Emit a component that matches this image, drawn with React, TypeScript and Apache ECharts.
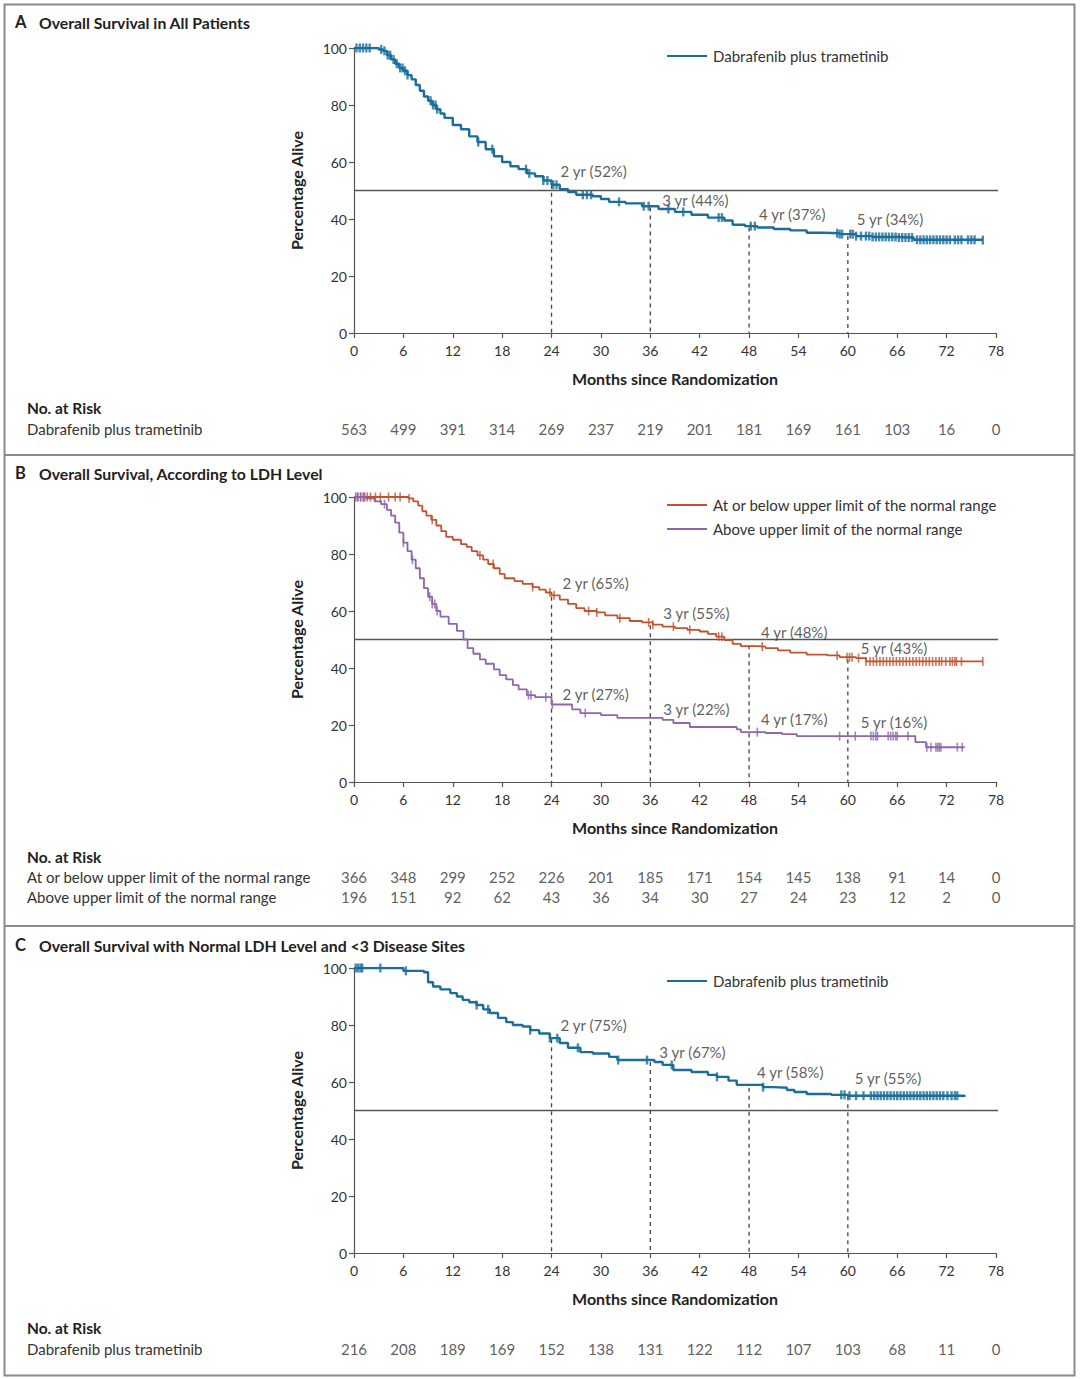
import React, { useEffect, useRef } from "react";
import * as echarts from "echarts";

const FONT = 'Lato, "Open Sans", "DejaVu Sans", sans-serif';
const BLUE = "#1b6e9c";
const RED = "#c4522f";
const PURPLE = "#8e66ad";

// ---------- Panel A: all patients ----------
const monthsA = [0, 2.5, 3, 3.5, 4, 4.5, 5, 5.5, 6, 6.5, 7, 7.5, 8, 8.5, 9, 9.5, 10, 10.5, 11, 12, 13, 14, 15, 16, 17, 18, 19, 20, 21, 22, 23, 24, 25, 26, 27, 29, 30, 31, 33, 35, 37, 39, 41, 43, 45, 46, 47.5, 49, 51, 53, 55, 57, 59, 61, 63, 66, 68, 76.4];
const survA = [100, 100, 99.5, 99, 97.5, 96, 94.5, 93, 92, 90.5, 89, 87, 85, 83, 81.5, 80, 78.5, 77, 75.5, 73, 71.5, 69, 67, 64.5, 62, 60, 58.5, 57.5, 56, 55, 53.5, 52, 50.5, 49.5, 48.5, 48, 47, 46, 45.5, 44.5, 43.5, 42.5, 41.5, 40.5, 39.5, 38, 37.5, 37, 36.5, 36, 35.2, 35, 34.7, 34, 33.7, 33.5, 32.7, 32.6];
const censorA = [0.3, 0.7, 1.1, 1.5, 1.9, 3.3, 3.7, 4.1, 4.4, 4.8, 5.2, 5.6, 5.9, 6.2, 6.5, 9.3, 9.6, 9.9, 10.1, 15.1, 16.8, 20.9, 21.3, 23, 23.5, 24.2, 24.6, 27.8, 28.3, 28.8, 32.2, 35.2, 35.8, 38.2, 40, 44.3, 44.7, 48.2, 48.7, 58.7, 59, 59.3, 60.3, 60.6, 61, 61.6, 62.2, 62.6, 63, 63.4, 63.8, 64.2, 64.6, 65, 65.4, 65.8, 66.2, 66.6, 67, 67.4, 67.8, 68.4, 68.8, 69.2, 69.6, 70, 70.4, 70.8, 71.2, 71.6, 72, 72.4, 73, 73.4, 73.8, 74.6, 75, 75.4, 76.4];
const milestonesA = [24, 36, 48, 60];
const pctA = [52, 44, 37, 34];

// ---------- Panel B: LDH level ----------
const monthsB1 = [0, 5.8, 6.6, 7.2, 7.8, 8.3, 8.8, 9.4, 10, 10.6, 11.2, 12, 13, 13.7, 14.3, 15, 15.7, 16.3, 17, 17.7, 18.3, 19.5, 20.5, 21.7, 22.5, 23.3, 24, 25, 26, 27, 28, 29.5, 30.5, 32, 33.5, 35, 36.3, 37.5, 39, 40.5, 42, 43, 44, 45, 46, 47, 49, 50, 51.5, 53, 55, 57.5, 59, 61, 62.2, 76.4];
const survB1 = [100, 100, 99.5, 98.5, 97, 95, 93.5, 92, 90, 88, 86, 85, 83.5, 82.5, 81, 79.5, 78, 76.5, 75, 73, 71.5, 70.5, 69.5, 68.4, 67.5, 66.5, 65.5, 64, 62.5, 61, 60, 59.5, 58.5, 57.5, 56.5, 56, 55.2, 54.5, 54, 53.4, 52.8, 52, 51, 49.8, 48.5, 47.7, 47.5, 47, 46.2, 45.4, 44.7, 44.4, 43.8, 43.5, 42.3, 42.3];
const censorB1 = [0.4, 0.8, 1.2, 1.6, 2.0, 2.6, 3.2, 4.2, 5.0, 5.6, 6.7, 9.5, 15.3, 16.9, 21.7, 23.8, 24.3, 28.5, 29.5, 32.3, 35.8, 36.3, 38.8, 40.8, 44.3, 44.7, 49.6, 58.7, 59.9, 60.2, 60.5, 61.3, 62.2, 62.7, 63.1, 63.5, 63.9, 64.3, 64.7, 65.1, 65.5, 65.9, 66.3, 66.7, 67.1, 67.5, 67.9, 68.3, 68.7, 69.1, 69.5, 69.9, 70.3, 70.7, 71.1, 71.4, 71.9, 72.4, 72.7, 73, 73.2, 73.8, 76.4];
const monthsB2 = [0, 1.5, 2.5, 3.3, 4, 4.5, 5, 5.5, 6, 6.5, 7, 7.5, 8, 8.5, 9, 9.5, 10, 10.5, 11.5, 12.5, 13.3, 13.8, 14.5, 15.3, 16, 17, 17.7, 18.5, 19.3, 20, 21, 22, 24, 26.5, 27.5, 30, 32, 37.5, 38.8, 40.8, 46.5, 47, 50, 52, 53.8, 68.2, 69.5, 74.2];
const survB2 = [100, 99.5, 98.5, 97.5, 95.5, 93.5, 91, 87.5, 84, 81, 78, 75, 71.5, 68, 65, 62.5, 60, 58, 55.5, 53, 50, 47, 45, 43, 41.5, 39.5, 37.5, 36, 34, 32.5, 30.5, 29.8, 27.2, 25.5, 24.2, 23.5, 22.5, 21.8, 20.7, 19.3, 18.5, 17.5, 17.2, 16.8, 16.1, 14, 12.2, 12.2];
const censorB2 = [0.2, 0.5, 0.8, 1.1, 1.3, 3.7, 6, 7.1, 9.2, 9.5, 9.8, 10.1, 21.2, 21.5, 23.3, 24.1, 28.1, 49, 59, 60.9, 62.8, 63.1, 63.4, 63.6, 64.9, 65.2, 65.5, 65.8, 66, 67.3, 69.6, 70.1, 70.7, 70.9, 71.1, 71.3, 73.3, 73.9];
const milestonesB = [24, 36, 48, 60];
const pctB1 = [65, 55, 48, 43];
const pctB2 = [27, 22, 17, 16];

// ---------- Panel C: normal LDH and <3 disease sites ----------
const monthsC = [0, 5.5, 6, 8.5, 9, 9.6, 10.5, 11.7, 12.5, 13.2, 14, 14.9, 15.7, 16.5, 17.5, 18.5, 19.3, 20.5, 21.4, 22.5, 23.8, 25, 26, 27.5, 29, 31, 32, 36.5, 37.5, 38.8, 41, 43, 44.1, 45.5, 46.5, 49.7, 51, 52.6, 53.5, 55, 58, 60, 74.2];
const survC = [100, 100, 99, 98.5, 95, 93.5, 92.5, 91.2, 90, 88.8, 88, 87, 85.5, 84.2, 82.5, 81, 80, 79.5, 78.2, 77, 75.4, 73.7, 72, 70.5, 70, 68.8, 67.7, 67, 66, 64.2, 63.5, 62.5, 61.8, 60.5, 59, 58.2, 58, 57.2, 56.5, 55.8, 55.5, 55.2, 54.8];
const censorC = [0.2, 0.5, 0.8, 1.0, 3.2, 6.3, 14.9, 16.3, 21.4, 23.8, 24.7, 27.2, 32.1, 35.6, 38.6, 44.1, 49.7, 59.2, 59.6, 60.2, 61, 61.9, 62.8, 63.2, 63.6, 64, 64.4, 64.8, 65.2, 65.6, 66, 66.4, 66.8, 67.2, 67.6, 68, 68.4, 68.8, 69.2, 69.6, 70, 70.4, 70.8, 71.2, 71.6, 72.1, 72.6, 73, 73.3];
const milestonesC = [24, 36, 48, 60];
const pctC = [75, 67, 58, 55];

// ---------- Number at risk ----------
const riskMonths = [0, 6, 12, 18, 24, 30, 36, 42, 48, 54, 60, 66, 72, 78];
const riskA = [563, 499, 391, 314, 269, 237, 219, 201, 181, 169, 161, 103, 16, 0];
const riskB1 = [366, 348, 299, 252, 226, 201, 185, 171, 154, 145, 138, 91, 14, 0];
const riskB2 = [196, 151, 92, 62, 43, 36, 34, 30, 27, 24, 23, 12, 2, 0];
const riskC = [216, 208, 189, 169, 152, 138, 131, 122, 112, 107, 103, 68, 11, 0];

const titles = [
  ["A", "Overall Survival in All Patients"],
  ["B", "Overall Survival, According to LDH Level"],
  ["C", "Overall Survival with Normal LDH Level and <3 Disease Sites"],
];
const legendA = ["Dabrafenib plus trametinib"];
const legendB = ["At or below upper limit of the normal range", "Above upper limit of the normal range"];
const legendC = ["Dabrafenib plus trametinib"];

function survAt(times: number[], surv: number[], t: number) {
  let v = surv[0];
  for (let i = 0; i < times.length; i++) if (times[i] <= t) v = surv[i];
  return v;
}

export default function App() {
  const ref = useRef<HTMLDivElement>(null);
  useEffect(() => {
    if (!ref.current) return;
    const chart = echarts.init(ref.current, undefined, { renderer: "svg" });

    const plotTops = [48, 497, 968];
    const grids: any[] = plotTops.map((t) => ({ left: 354, top: t, width: 642, height: 285 }));
    grids.push({ left: 354, top: 419, width: 642, height: 20 });
    grids.push({ left: 354, top: 867, width: 642, height: 40 });
    grids.push({ left: 354, top: 1339, width: 642, height: 20 });

    const axisLineStyle = { color: "#555", width: 1.2 };
    const nameStyle = { fontSize: 16, fontWeight: "bold", color: "#222", fontFamily: FONT };
    const xAxes: any[] = [0, 1, 2].map((g) => ({
      type: "value", gridIndex: g, min: 0, max: 78, interval: 6,
      axisLine: { show: true, lineStyle: axisLineStyle },
      axisTick: { show: true, length: 5, lineStyle: axisLineStyle },
      axisLabel: { fontSize: 14, color: "#333", fontFamily: FONT, margin: 10 },
      splitLine: { show: false },
      name: "Months since Randomization", nameLocation: "middle", nameGap: 37,
      nameTextStyle: nameStyle,
    }));
    const yAxes: any[] = [0, 1, 2].map((g) => ({
      type: "value", gridIndex: g, min: 0, max: 100, interval: 20,
      axisLine: { show: true, lineStyle: axisLineStyle },
      axisTick: { show: true, length: 5, lineStyle: axisLineStyle },
      axisLabel: { fontSize: 14, color: "#333", fontFamily: FONT, margin: 7 },
      splitLine: { show: false },
      name: "Percentage Alive", nameLocation: "middle", nameGap: 50, nameRotate: 90,
      nameTextStyle: nameStyle,
    }));
    [3, 4, 5].forEach((g, i) => {
      xAxes.push({ type: "value", gridIndex: g, min: 0, max: 78, show: false });
      yAxes.push({ type: "category", gridIndex: g, data: i === 1 ? ["r0", "r1"] : ["r0"], inverse: true, show: false });
    });

    const series: any[] = [];
    // 50% reference lines
    [0, 1, 2].forEach((g) => {
      series.push({
        type: "line", xAxisIndex: g, yAxisIndex: g, data: [[0, 50], [78.6, 50]], clip: false,
        symbol: "none", lineStyle: { color: "#555", width: 1.3 }, z: 1, silent: true,
      });
    });
    const dashed = (g: number, ms: number[], tops: number[]) => {
      ms.forEach((m, i) => {
        series.push({
          type: "line", xAxisIndex: g, yAxisIndex: g, data: [[m, tops[i]], [m, 0]], symbol: "none",
          lineStyle: { color: "#444", width: 1.3, type: [4, 4] }, z: 1, silent: true,
        });
      });
    };
    dashed(0, milestonesA, pctA);
    dashed(1, milestonesB, pctB1);
    dashed(2, milestonesC, pctC);

    const curve = (g: number, times: number[], surv: number[], color: string, width: number, censor: number[], cw: number) => {
      series.push({
        type: "line", xAxisIndex: g, yAxisIndex: g, step: "end", symbol: "none",
        data: times.map((t, i) => [t, surv[i]]), lineStyle: { color, width }, z: 3,
      });
      series.push({
        type: "scatter", xAxisIndex: g, yAxisIndex: g, symbol: "rect", symbolSize: [cw, 9],
        itemStyle: { color }, data: censor.map((t) => [t, survAt(times, surv, t)]), z: 4,
      });
    };
    curve(0, monthsA, survA, BLUE, 2.4, censorA, 2.4);
    curve(1, monthsB1, survB1, RED, 1.8, censorB1, 1.6);
    curve(1, monthsB2, survB2, PURPLE, 1.8, censorB2, 1.6);
    curve(2, monthsC, survC, BLUE, 2.4, censorC, 2.4);

    // label placement (pixel offsets from the top of each dashed line)
    const offA = [[9, -14], [12, -8], [10, -14], [9, -17]];
    const offB1 = [[11, -14], [13, -12], [12, -13], [13, -11]];
    const offB2 = [[11, -11], [13, -10], [12, -15], [13, -14]];
    const offC = [[9, -14], [9, -10], [8, -16], [7, -18]];
    const labels = (g: number, ms: number[], pcts: number[], offs: number[][]) => {
      series.push({
        type: "scatter", xAxisIndex: g, yAxisIndex: g, symbolSize: 0,
        data: ms.map((m, i) => ({
          value: [m, pcts[i]],
          label: { formatter: `${m / 12} yr (${pcts[i]}%)`, offset: offs[i] },
        })),
        label: { show: true, position: "inside", align: "left", verticalAlign: "middle", fontSize: 15, color: "#333", fontFamily: FONT },
        z: 5, silent: true,
      });
    };
    labels(0, milestonesA, pctA, offA);
    labels(1, milestonesB, pctB1, offB1);
    labels(1, milestonesB, pctB2, offB2);
    labels(2, milestonesC, pctC, offC);

    const risk = (g: number, row: string, vals: number[]) => {
      series.push({
        type: "scatter", xAxisIndex: g, yAxisIndex: g, symbolSize: 0,
        data: riskMonths.map((m, i) => [m, row, vals[i]]),
        label: { show: true, position: "inside", formatter: (p: any) => String(p.value[2]), fontSize: 15, color: "#333", fontFamily: FONT },
        silent: true,
      });
    };
    risk(3, "r0", riskA);
    risk(4, "r0", riskB1);
    risk(4, "r1", riskB2);
    risk(5, "r0", riskC);

    const txt = (x: number, y: number, text: string, size: number, bold = false, color = "#333") => ({
      type: "text", x, y,
      style: { text, fontSize: size, fontWeight: bold ? "bold" : "normal", fill: color, fontFamily: FONT, textVerticalAlign: "middle", verticalAlign: "middle" },
      silent: true,
    });
    const graphics: any[] = [];
    graphics.push({ type: "rect", shape: { x: 4.5, y: 4.5, width: 1070, height: 1371 }, style: { fill: "none", stroke: "#8a8a8a", lineWidth: 2 }, silent: true });
    [455, 926].forEach((y) => graphics.push({ type: "line", shape: { x1: 4, y1: y, x2: 1075, y2: y }, style: { stroke: "#8a8a8a", lineWidth: 2 }, silent: true }));
    const titleY = [22, 473, 945];
    titles.forEach(([letter, t], i) => {
      graphics.push(txt(15, titleY[i], letter, 16.5, true, "#222"));
      graphics.push(txt(39, titleY[i], t, 15.8, true, "#222"));
    });
    const legendItem = (y: number, color: string, text: string) => {
      graphics.push({ type: "line", shape: { x1: 667, y1: y, x2: 707, y2: y }, style: { stroke: color, lineWidth: 2 }, silent: true });
      graphics.push(txt(713, y, text, 15));
    };
    legendItem(56, BLUE, legendA[0]);
    legendItem(505, RED, legendB[0]);
    legendItem(529, PURPLE, legendB[1]);
    legendItem(981, BLUE, legendC[0]);

    graphics.push(txt(27, 408, "No. at Risk", 15.5, true, "#222"));
    graphics.push(txt(27, 429, legendA[0], 15));
    graphics.push(txt(27, 857, "No. at Risk", 15.5, true, "#222"));
    graphics.push(txt(27, 877, legendB[0], 15));
    graphics.push(txt(27, 897, legendB[1], 15));
    graphics.push(txt(27, 1328, "No. at Risk", 15.5, true, "#222"));
    graphics.push(txt(27, 1349, legendC[0], 15));

    chart.setOption({
      animation: false,
      backgroundColor: "#ffffff",
      textStyle: { fontFamily: FONT },
      grid: grids,
      xAxis: xAxes,
      yAxis: yAxes,
      series,
      graphic: graphics,
    });
    return () => chart.dispose();
  }, []);
  return <div ref={ref} style={{ position: "absolute", left: 0, top: 0, width: 1080, height: 1379 }} />;
}
